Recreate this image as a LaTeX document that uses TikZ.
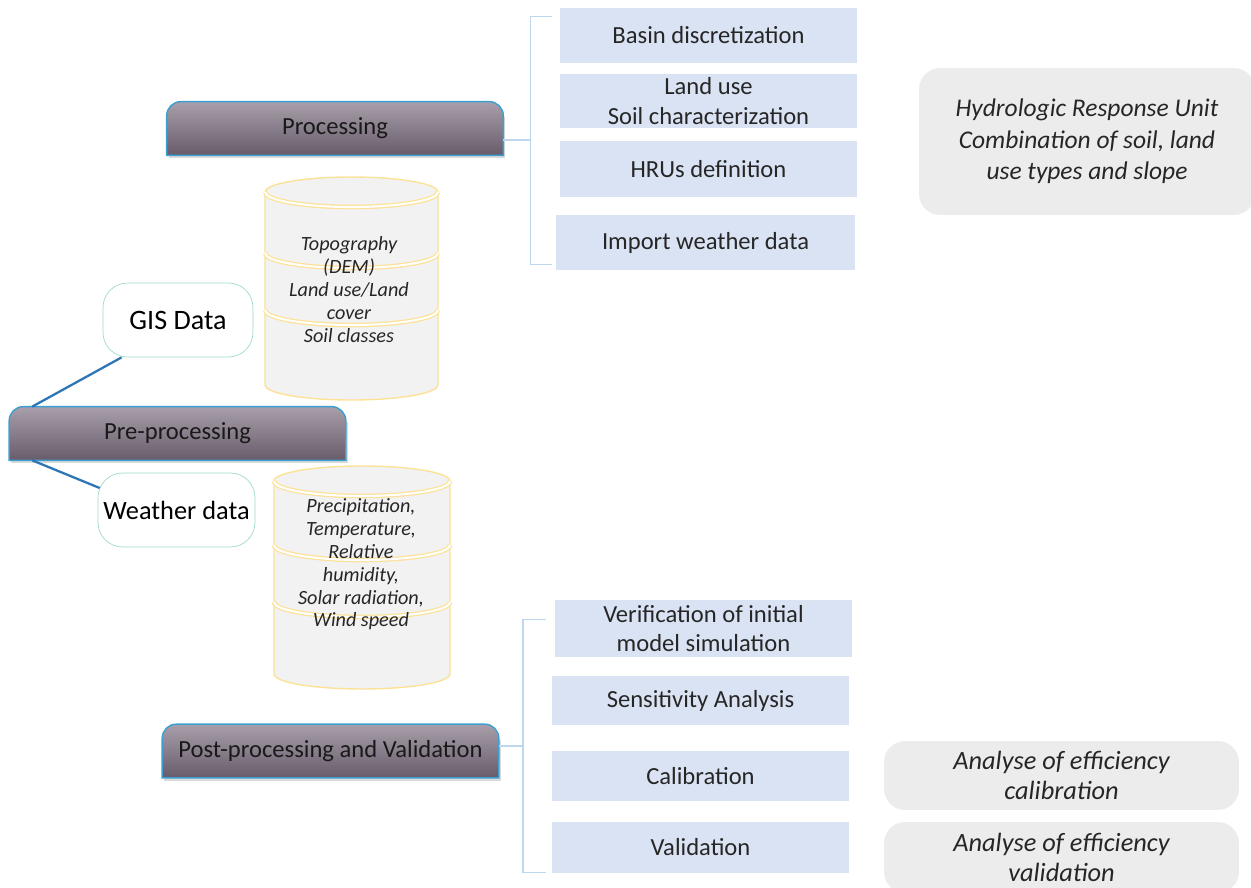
\documentclass[tikz,border=0pt]{standalone}
\usepackage{fontspec}
\setmainfont{Carlito}
\usetikzlibrary{positioning, backgrounds}
\definecolor{tabTop}{RGB}{168,159,170}
\definecolor{tabBot}{RGB}{104,91,106}
\definecolor{tabEdge}{RGB}{59,159,209}
\definecolor{stepFill}{RGB}{218,227,243}
\definecolor{noteFill}{RGB}{236,236,236}
\definecolor{cylFill}{RGB}{242,242,242}
\definecolor{cylEdge}{RGB}{252,226,150}
\definecolor{dataEdge}{RGB}{160,218,200}
\definecolor{linkBlue}{RGB}{46,117,182}
\definecolor{brkBlue}{RGB}{189,215,238}

\begin{document}
\begin{tikzpicture}[x=0.02cm, y=0.02cm,
        font=\fontsize{14}{17}\selectfont,
        tab/.style={minimum width=6.72cm, minimum height=1.06cm, inner sep=0pt, text=black!90},
        stepbox/.style={rectangle, fill=stepFill, minimum width=5.94cm, align=center, inner sep=0pt, text=black!85},
        note/.style={rectangle, rounded corners=12pt, fill=noteFill, align=center, inner sep=0pt,
            font=\fontsize{15}{17.5}\selectfont\itshape, text=black!85},
        data/.style={rectangle, rounded corners=14pt, draw=dataEdge, fill=white, minimum width=3cm,
            minimum height=1.48cm, inner sep=0pt, font=\fontsize{16}{18}\selectfont},
        cyltxt/.style={align=center, font=\fontsize{11.5}{13}\selectfont\itshape, text=black!85},
        link/.style={draw=linkBlue, line width=1.3pt},
        brk/.style={draw=brkBlue, line width=0.8pt}
    ]
    \useasboundingbox (0,0) rectangle (1251,-888);

    % main stages
    \node[tab] (proc) at (335,-128.5) {Processing};
    \node[tab] (pre)  at (177.5,-433.5) {Pre-processing};
    \node[tab] (post) at (330.5,-751) {Post-processing and Validation};

    \begin{scope}[on background layer]
        \foreach \t in {proc,pre,post}{
            \fill[black!14] ([shift={(1.2pt,-1.6pt)}]\t.south west) rectangle ([shift={(1.2pt,-9pt)}]\t.north east);
            \shadedraw[top color=tabTop, bottom color=tabBot, draw=tabEdge, line width=0.8pt]
                (\t.south west) -- ([yshift=-8pt]\t.north west) arc[start angle=180, end angle=90, radius=8pt]
                -- ([xshift=-8pt]\t.north east) arc[start angle=90, end angle=0, radius=8pt]
                -- (\t.south east) -- cycle;
        }
    \end{scope}

    % processing steps
    \node[stepbox, minimum height=1.1cm]  (basin) at (708.5,-35.5) {Basin discretization};
    \node[stepbox, minimum height=1.08cm] (soil)  at (708.5,-101) {Land use\\Soil characterization};
    \node[stepbox, minimum height=1.12cm] (hrus)  at (708.5,-169) {HRUs definition};
    \node[stepbox, minimum height=1.1cm, minimum width=5.98cm] (wimp) at (705.5,-242.5) {Import weather data};
    \node[note, minimum width=6.72cm, minimum height=2.94cm, font=\fontsize{14.5}{18}\selectfont\itshape]
        (hru) at (1087,-141.5) {Hydrologic Response Unit\\Combination of soil, land\\use types and slope};

    % post-processing steps
    \node[stepbox, minimum height=1.14cm] (verif) at (703.5,-628.5) {Verification of initial\\model simulation};
    \node[stepbox, minimum height=0.98cm] (sens)  at (700.5,-700.5) {Sensitivity Analysis};
    \node[stepbox, minimum height=1cm]    (calib) at (700.5,-776) {Calibration};
    \node[stepbox, minimum height=1.02cm] (valid) at (700.5,-847.5) {Validation};
    \node[note, minimum width=7.1cm, minimum height=1.38cm] (anacal) at (1061.5,-775.5) {Analyse of efficiency\\calibration};
    \node[note, minimum width=7.1cm, minimum height=1.42cm] (anaval) at (1061.5,-857.5) {Analyse of efficiency\\validation};

    % data stores
    \foreach \cx/\rx/\ya/\yb/\yc/\yd in {351.5/86.5/192/253/310/385, 362/88/481/545/602/674}{
        \filldraw[fill=cylFill, draw=cylEdge, line width=0.8pt]
            (\cx-\rx,-\ya) -- (\cx-\rx,-\yd) arc[start angle=180, end angle=360, x radius=\rx, y radius=15]
            -- (\cx+\rx,-\ya) arc[start angle=0, end angle=180, x radius=\rx, y radius=15] -- cycle;
        \foreach \yy in {\ya,\yb,\yc}
            \draw[cylEdge, line width=0.7pt, double=white, double distance=1.2pt]
                (\cx-\rx,-\yy) arc[start angle=180, end angle=360, x radius=\rx, y radius=15];
    }
    \node[cyltxt] (gistxt) at (349,-289.5) {Topography\\(DEM)\\Land use/Land\\cover\\Soil classes};
    \node[cyltxt] (wtxt) at (361,-564.5) {Precipitation,\\Temperature,\\Relative\\humidity,\\Solar radiation,\\Wind speed};

    \node[data] (gis) at (178,-320) {GIS Data};
    \node[data, minimum width=3.14cm, font=\fontsize{15}{18}\selectfont] (wdata) at (176.5,-510) {Weather data};

    \draw[link] ([xshift=0.46cm]pre.north west) -- ([xshift=0.38cm]gis.south west);
    \draw[link] ([xshift=0.46cm]pre.south west) -- ([xshift=0.04cm, yshift=0.44cm]wdata.west);

    % brackets
    \draw[brk] ([yshift=-0.23cm]proc.east) -- ++(0.54cm,0) coordinate (pb);
    \draw[brk] ([xshift=-0.16cm, yshift=-0.18cm]basin.north west) -| (pb) |- ([xshift=-0.08cm, yshift=0.12cm]wimp.south west);
    \draw[brk] ([yshift=0.1cm]post.east) -- ++(0.48cm,0) coordinate (qb);
    \draw[brk] ([xshift=-0.18cm, yshift=-0.4cm]verif.north west) -| (qb) |- ([xshift=-0.12cm, yshift=0.02cm]valid.south west);
\end{tikzpicture}
\end{document}
